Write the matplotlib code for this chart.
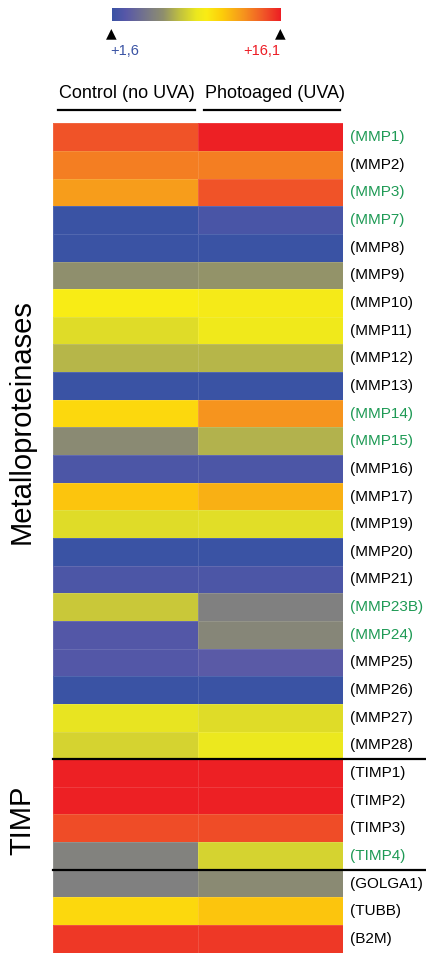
import numpy as np
import matplotlib
matplotlib.use("Agg")
import matplotlib.pyplot as plt
from matplotlib import font_manager
from matplotlib.colors import LinearSegmentedColormap, Normalize
from matplotlib.transforms import blended_transform_factory
from matplotlib.lines import Line2D

plt.rcParams['font.family'] = ['Liberation Sans', 'DejaVu Sans']

# Genes (rows, top to bottom)
genes = ["MMP1", "MMP2", "MMP3", "MMP7", "MMP8", "MMP9", "MMP10", "MMP11",
         "MMP12", "MMP13", "MMP14", "MMP15", "MMP16", "MMP17", "MMP19",
         "MMP20", "MMP21", "MMP23B", "MMP24", "MMP25", "MMP26", "MMP27",
         "MMP28", "TIMP1", "TIMP2", "TIMP3", "TIMP4", "GOLGA1", "TUBB", "B2M"]

# Genes whose label is highlighted
highlighted = ["MMP1", "MMP3", "MMP7", "MMP14", "MMP15", "MMP23B", "MMP24", "TIMP4"]

# Expression levels per condition
control = [14.7, 13.5, 12.6, 1.6, 1.6, 6.0, 9.6, 8.4,
           7.1, 1.6, 10.6, 5.7, 2.3, 11.3, 8.4,
           1.6, 2.3, 7.7, 2.6, 2.6, 1.6, 8.7,
           8.1, 16.0, 16.0, 14.9, 5.2, 5.1, 10.6, 15.4]
photoaged = [16.0, 13.5, 14.7, 2.2, 1.6, 6.1, 9.4, 9.1,
             7.1, 1.6, 12.9, 7.0, 2.3, 12.0, 8.5,
             1.6, 2.3, 5.1, 5.5, 2.9, 1.6, 8.4,
             8.9, 16.0, 16.0, 14.9, 8.1, 5.7, 11.3, 15.4]

conditions = ["Control (no UVA)", "Photoaged (UVA)"]
scale_min, scale_max = 1.6, 16.1
scale_labels = ["+1,6", "+16,1"]

# Group boundaries (row index where a new group starts)
group_breaks = [23, 27]

# Colour scale: blue - grey - yellow - orange - red
stops = [(0.00, (58, 83, 164)), (0.08, (88, 88, 168)), (0.24, (128, 128, 128)),
         (0.30, (142, 142, 110)), (0.40, (192, 192, 64)), (0.50, (236, 232, 30)),
         (0.56, (250, 236, 20)), (0.65, (253, 206, 10)), (0.78, (246, 148, 30)),
         (0.90, (240, 86, 40)), (1.00, (237, 30, 36))]
cmap = LinearSegmentedColormap.from_list(
    "expr", [(p, tuple(c / 255 for c in rgb)) for p, rgb in stops])
norm = Normalize(scale_min, scale_max)

# Narrow face for the gene labels when available
installed = {f.name for f in font_manager.fontManager.ttflist}
if "Liberation Sans Narrow" in installed:
    label_font = dict(family=["Liberation Sans Narrow", "DejaVu Sans"], fontsize=12.6)
else:
    label_font = dict(family=["Liberation Sans", "DejaVu Sans"], fontsize=11)

W, H = 426, 956
fig = plt.figure(figsize=(W / 100, H / 100), dpi=100)


def fig_rect(x0, y0, x1, y1):
    return [x0 / W, 1 - y1 / H, (x1 - x0) / W, (y1 - y0) / H]


# Heatmap
ax = fig.add_axes(fig_rect(53.3, 123.3, 343.3, 952.7))
data = np.column_stack([control, photoaged])
ax.pcolormesh(np.arange(3), np.arange(len(genes) + 1), data, cmap=cmap, norm=norm,
              edgecolor=(1, 1, 1, 0.12), linewidth=0.5)
ax.set_xlim(0, 2)
ax.set_ylim(len(genes), 0)
ax.set_axis_off()

label_tr = blended_transform_factory(ax.transAxes, ax.transData)
for i, g in enumerate(genes):
    col = "#1e9a55" if g in highlighted else "black"
    ax.text(1.022, i + 0.5, f"({g})", transform=label_tr, ha="left", va="center",
            color=col, **label_font)

for b in group_breaks:
    ax.add_line(Line2D([0, (W - 53.3) / 290], [b, b], transform=label_tr,
                       color="black", lw=1.6, clip_on=False))

# Column headers with underlines
hdr_centers = [126.5, 275.0]
hdr_lines = [(58, 195), (204, 340)]
for name, xc, (xa, xb) in zip(conditions, hdr_centers, hdr_lines):
    fig.text(xc / W, 1 - 93 / H, name, ha="center", va="center", fontsize=13)
    fig.add_artist(Line2D([xa / W, xb / W], [1 - 109.5 / H] * 2, color="black",
                          lw=1.6, transform=fig.transFigure))

# Group labels
fig.text(22 / W, 1 - 422 / H, "Metalloproteinases", rotation=90, ha="center",
         va="center", fontsize=21)
fig.text(22 / W, 1 - 820 / H, "TIMP", rotation=90, ha="center", va="center",
         fontsize=21)

# Colour bar
cax = fig.add_axes(fig_rect(111.7, 8.3, 280, 20.7))
grad = np.linspace(scale_min, scale_max, 256).reshape(1, -1)
cax.imshow(grad, aspect="auto", cmap=cmap, norm=norm,
           extent=[scale_min, scale_max, 0, 1])
cax.set_axis_off()
for v, lab, c in zip([scale_min, scale_max], scale_labels, ["#3a53a4", "#ed1c24"]):
    x = cax.transData.transform((v, 0))[0]
    fx = x / fig.dpi / fig.get_figwidth()
    fig.text(fx, 1 - 33 / H, "\u25B2", ha="center", va="center", fontsize=10,
             color="black", family="DejaVu Sans")
    fig.text(fx + (13 / W if v == scale_min else -18 / W), 1 - 51 / H, lab,
             ha="center", va="center", fontsize=10.5, color=c)

fig.savefig("out.png", dpi=100)
